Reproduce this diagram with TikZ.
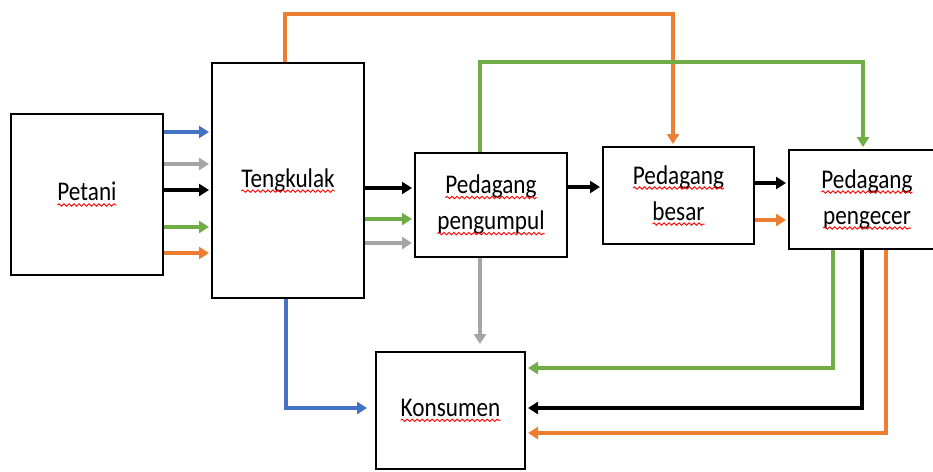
\documentclass[tikz,border=0pt]{standalone}
\usepackage{fontspec}
\setmainfont[FakeStretch=0.86]{Carlito}
\usepackage{xcolor}
\usepackage{tikz}
\usetikzlibrary{arrows.meta,decorations.pathmorphing}

\definecolor{oblue}{HTML}{4472C4}
\definecolor{ogray}{HTML}{A5A5A5}
\definecolor{ogreen}{HTML}{70AD47}
\definecolor{oorange}{HTML}{ED7D31}

\newcommand\spell[1]{\tikz[baseline=(w.base)]{\node[draw=none,inner sep=0pt,outer sep=0pt,minimum width=0pt,minimum height=0pt] (w) {#1};
	\draw[red,line width=0.9pt,decorate,decoration={snake,amplitude=1.2pt,segment length=5pt}] ([yshift=-4pt]w.base west) -- ([yshift=-4pt]w.base east);}}

\tikzset{
	box/.style={draw,line width=2pt,inner sep=0pt,align=center,font=\fontsize{27}{36}\selectfont},
	arr/.style={line width=3.5pt,-{Triangle[length=10pt,width=12pt]},shorten >=2pt}
}

\begin{document}
\begin{tikzpicture}[x=1pt,y=-1pt]
	\useasboundingbox (0,0) rectangle (933,471);
	
	\node[box,minimum width=152,minimum height=161] (petani) at (87,194.5) {\spell{Petani}};
	\node[box,minimum width=152,minimum height=235] (tengkulak) at (288,180.5) {\spell{Tengkulak}};
	\node[box,minimum width=152,minimum height=104] (pengumpul) at (491,205) {\spell{Pedagang}\\\spell{pengumpul}};
	\node[box,minimum width=151,minimum height=97] (besar) at (678.5,195.5) {\spell{Pedagang}\\\spell{besar}};
	\node[box,minimum width=156,minimum height=99] (pengecer) at (867,199.5) {\spell{Pedagang}\\\spell{pengecer}};
	\node[box,minimum width=149,minimum height=117] (konsumen) at (450.5,410.5) {\spell{Konsumen}};
	
	% petani ke tengkulak
	\draw[arr,oblue] (petani.east |- 0,132) -- (tengkulak.west |- 0,132);
	\draw[arr,ogray] (petani.east |- 0,164) -- (tengkulak.west |- 0,164);
	\draw[arr,black] (petani.east |- 0,190) -- (tengkulak.west |- 0,190);
	\draw[arr,ogreen] (petani.east |- 0,227) -- (tengkulak.west |- 0,227);
	\draw[arr,oorange] (petani.east |- 0,253) -- (tengkulak.west |- 0,253);
	
	% tengkulak ke pedagang pengumpul
	\draw[arr,black] (tengkulak.east |- 0,188) -- (pengumpul.west |- 0,188);
	\draw[arr,ogreen] (tengkulak.east |- 0,219) -- (pengumpul.west |- 0,219);
	\draw[arr,ogray] (tengkulak.east |- 0,243) -- (pengumpul.west |- 0,243);
	
	\draw[arr,black] (pengumpul.east |- 0,187) -- (besar.west |- 0,187);
	\draw[arr,black] (besar.east |- 0,183) -- (pengecer.west |- 0,183);
	\draw[arr,oorange] (besar.east |- 0,220) -- (pengecer.west |- 0,220);
	
	% jalur atas
	\draw[arr,oorange] (tengkulak.north -| 285,0) -- (285,14) -- (673,14) -- (besar.north -| 673,0);
	\draw[arr,ogreen] (pengumpul.north -| 480,0) -- (480,62) -- (863,62) -- (pengecer.north -| 863,0);
	
	% ke konsumen
	\draw[arr,ogray,shorten >=7pt] (pengumpul.south -| 480,0) -- (konsumen.north -| 480,0);
	\draw[arr,oblue,shorten >=8pt] (tengkulak.south -| 286,0) -- (286,408) -- (konsumen.west |- 0,408);
	\draw[arr,ogreen] (pengecer.south -| 833,0) -- (833,368) -- (konsumen.east |- 0,368);
	\draw[arr,black] (pengecer.south -| 862,0) -- (862,408) -- (konsumen.east |- 0,408);
	\draw[arr,oorange] (pengecer.south -| 886,0) -- (886,433) -- (konsumen.east |- 0,433);
\end{tikzpicture}
\end{document}
